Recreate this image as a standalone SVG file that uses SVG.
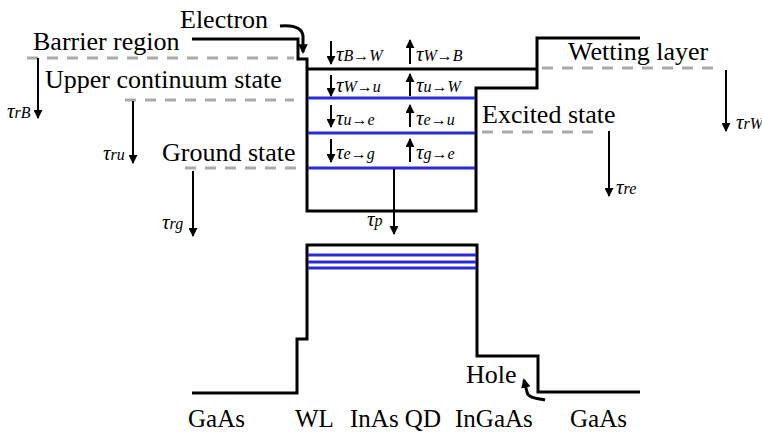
<svg xmlns="http://www.w3.org/2000/svg" width="762" height="435" viewBox="0 0 762 435">
<defs>
<marker id="ah" viewBox="0 0 10 10" refX="9" refY="5" markerWidth="4.5" markerHeight="4.5" orient="auto" markerUnits="strokeWidth">
<path d="M0,0 L10,5 L0,10 z" fill="#000"/>
</marker>
<marker id="ahc" viewBox="0 0 10 10" refX="8" refY="5" markerWidth="3.2" markerHeight="3.2" orient="auto" markerUnits="strokeWidth">
<path d="M0,0 L10,5 L0,10 z" fill="#000"/>
</marker>
</defs>
<style>
.band{fill:none;stroke:#000;stroke-width:3;stroke-linejoin:miter}
.lvl{stroke:#2a2ad6;stroke-width:3}
.dash{stroke:#aaaaaa;stroke-width:3;stroke-dasharray:11 9;fill:none}
.arr{stroke:#000;stroke-width:2;marker-end:url(#ah)}
.curve{fill:none;stroke:#000;stroke-width:3;marker-end:url(#ahc)}
text{font-family:'Liberation Serif','DejaVu Serif',serif;fill:#000}
.lab{font-size:26px}
.bot{font-size:25px}
.tau{font-style:italic;font-size:21px}
.sub{font-size:16px}
</style>
<rect width="762" height="435" fill="#fff"/>

<g id="conduction-band">
<polyline class="band" points="192,39 298,39 298,59 307,59 307,211 476,211 476,88 537,88 537,38 640,38"/>
<line class="band" x1="307" y1="69" x2="537" y2="69"/>
<line class="lvl" x1="308" y1="98" x2="475" y2="98"/>
<line class="lvl" x1="308" y1="133" x2="475" y2="133"/>
<line class="lvl" x1="308" y1="168" x2="475" y2="168"/>
</g>

<g id="valence-band">
<polyline class="band" points="192,393 297,393 297,339 307,339 307,245 477,245 477,356 538,356 538,392 640,392"/>
<line class="lvl" x1="308" y1="255" x2="476" y2="255"/>
<line class="lvl" x1="308" y1="262" x2="476" y2="262"/>
<line class="lvl" x1="308" y1="268" x2="476" y2="268"/>
</g>

<g id="barrier-region">
<text class="lab" x="33" y="50">Barrier region</text>
<line class="dash" x1="27" y1="58" x2="294" y2="58"/>
</g>
<g id="upper-continuum-state">
<text class="lab" x="45" y="88">Upper continuum state</text>
<line class="dash" x1="125" y1="100" x2="294" y2="100"/>
</g>
<g id="ground-state">
<text class="lab" x="162" y="161">Ground state</text>
<line class="dash" x1="185" y1="168" x2="303" y2="168"/>
</g>
<g id="wetting-layer">
<text class="lab" x="568" y="60">Wetting layer</text>
<line class="dash" x1="542" y1="68" x2="722" y2="68"/>
</g>
<g id="excited-state">
<text class="lab" x="482" y="123">Excited state</text>
<line class="dash" x1="482" y1="132" x2="594" y2="132"/>
</g>
<g id="electron">
<text class="lab" x="180" y="28">Electron</text>
</g>
<g id="hole">
<text class="lab" x="466" y="383">Hole</text>
</g>

<g id="connectors">
<path class="curve" d="M280,26 C292,25 302,27 303,36 L303,52"/>
<path class="curve" d="M545,400 C536,398 528,398 527,392 L524,380"/>

<line class="arr" x1="38" y1="58" x2="38" y2="118"/>
<line class="arr" x1="133" y1="101" x2="133" y2="163"/>
<line class="arr" x1="193" y1="171" x2="193" y2="236"/>
<line class="arr" x1="726" y1="70" x2="726" y2="131"/>
<line class="arr" x1="609" y1="131" x2="609" y2="196"/>
<line class="arr" x1="394" y1="169" x2="394" y2="234"/>

<line class="arr" x1="331" y1="41" x2="331" y2="64"/>
<line class="arr" x1="410" y1="64" x2="410" y2="40"/>
<line class="arr" x1="331" y1="75" x2="331" y2="96"/>
<line class="arr" x1="410" y1="96" x2="410" y2="74"/>
<line class="arr" x1="331" y1="105" x2="331" y2="127"/>
<line class="arr" x1="410" y1="127" x2="410" y2="105"/>
<line class="arr" x1="331" y1="139" x2="331" y2="162"/>
<line class="arr" x1="410" y1="162" x2="410" y2="139"/>
</g>

<g id="tau-labels">
<text class="tau" x="7" y="118">τ<tspan class="sub">rB</tspan></text>
<text class="tau" x="103" y="160">τ<tspan class="sub">ru</tspan></text>
<text class="tau" x="162" y="229">τ<tspan class="sub">rg</tspan></text>
<text class="tau" x="736" y="129">τ<tspan class="sub">rW</tspan></text>
<text class="tau" x="616" y="194">τ<tspan class="sub">re</tspan></text>
<text class="tau" x="367" y="226">τ<tspan class="sub">p</tspan></text>
<text class="tau" x="336" y="61">τ<tspan class="sub">B→W</tspan></text>
<text class="tau" x="416" y="61">τ<tspan class="sub">W→B</tspan></text>
<text class="tau" x="336" y="92">τ<tspan class="sub">W→u</tspan></text>
<text class="tau" x="416" y="92">τ<tspan class="sub">u→W</tspan></text>
<text class="tau" x="336" y="125">τ<tspan class="sub">u→e</tspan></text>
<text class="tau" x="416" y="125">τ<tspan class="sub">e→u</tspan></text>
<text class="tau" x="336" y="159">τ<tspan class="sub">e→g</tspan></text>
<text class="tau" x="416" y="159">τ<tspan class="sub">g→e</tspan></text>
</g>

<g id="material-labels">
<text class="bot" x="188" y="427">GaAs</text>
<text class="bot" x="295" y="427">WL</text>
<text class="bot" x="350" y="427">InAs QD</text>
<text class="bot" x="455" y="427">InGaAs</text>
<text class="bot" x="570" y="427">GaAs</text>
</g>
</svg>
